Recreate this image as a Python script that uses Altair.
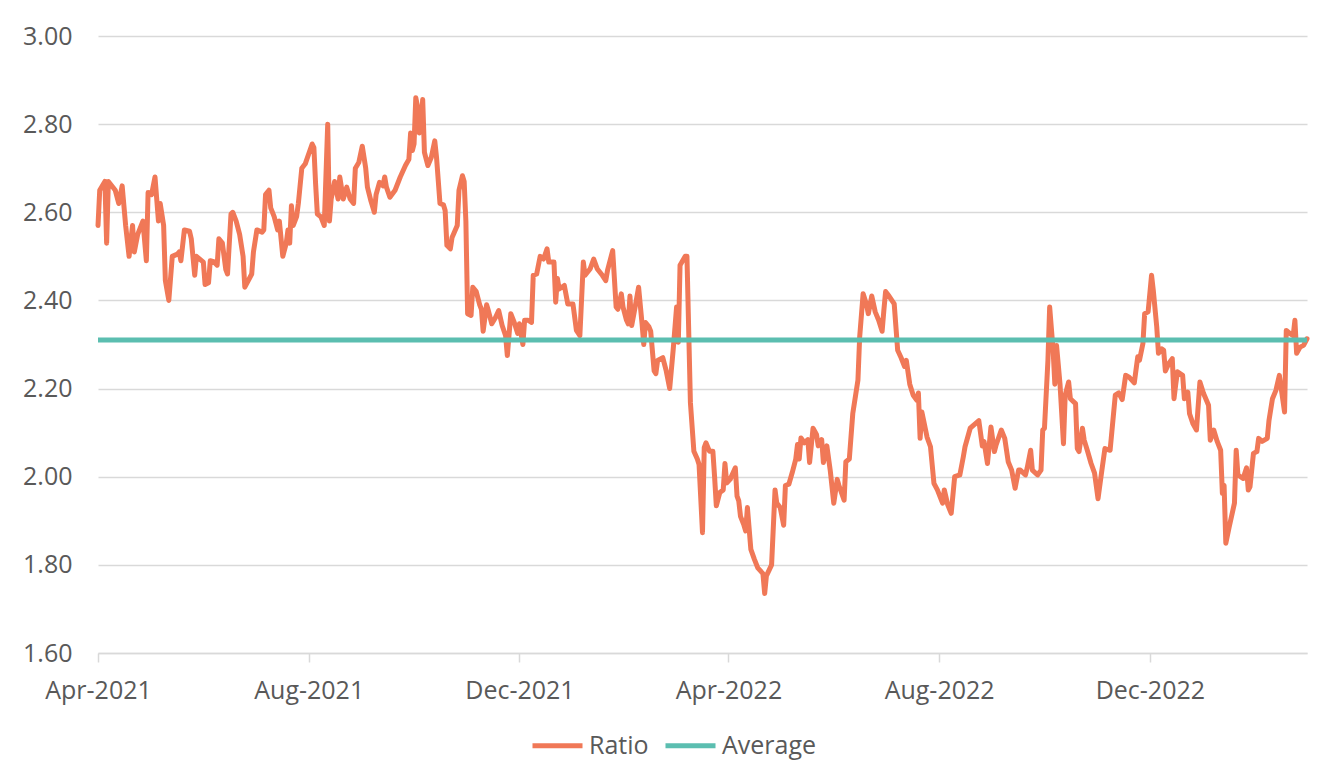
import altair as alt
import pandas as pd

# ---- data ----
START_DATE = "2021-04-01"
# days elapsed since START_DATE for each observation
DAY_OFFSETS = [
    0, 1, 4, 5, 6, 10, 12, 14, 16, 18, 20, 21, 23, 26, 28, 29, 31, 33, 35, 36,
    38, 39, 41, 43, 46, 47, 48, 50, 53, 54, 56, 57, 61, 62, 64, 65, 67, 69, 70, 72,
    74, 75, 77, 78, 80, 82, 84, 85, 87, 89, 90, 92, 95, 96, 97, 99, 100, 102, 104, 105,
    107, 109, 110, 111, 112, 113, 115, 116, 118, 120,
    124, 125, 126, 127, 129, 131, 133, 134, 135, 137, 139, 140, 142, 144, 146, 148, 149, 151, 153, 155,
    156, 158, 160, 161, 163, 165, 166, 167, 169, 172, 175, 178, 180, 181, 182, 183, 184, 185, 186, 187,
    188, 189, 191, 193, 195, 196, 198, 200, 201, 202, 204, 205, 208, 209, 211, 212, 213, 214, 216,
    217, 219, 221, 222, 223, 225, 226, 228, 230, 232, 234, 236, 237, 239, 241, 243, 244, 246, 247, 249,
    251, 252, 254, 256, 258, 260, 261, 264, 265, 266, 267, 270, 272, 275, 276, 277, 279, 281, 282, 285,
    287, 289, 292, 294, 295, 298, 300, 301, 303, 304, 306, 307, 308, 309, 311, 313, 315, 316, 317, 319,
    320, 322, 323, 324, 327, 329, 331, 333, 335, 336, 337, 340, 341,
    343, 345, 347, 348, 350, 351, 352, 354, 356, 357, 358, 360, 362, 363, 364, 366, 369, 370, 371, 372,
    374, 375, 376, 378, 380, 382, 385, 386, 387, 390, 392, 393, 395, 397, 398, 400, 402, 404, 405, 406,
    407, 409, 411, 412, 414, 416, 417, 419, 420, 422, 424, 426, 428, 429,
    432, 433, 435, 437, 440, 441, 443, 445, 446, 448, 450, 452, 454, 455, 456, 458, 461, 463, 465, 467,
    468, 470, 472, 474, 475, 476, 477, 478, 480, 482, 484, 486, 489, 490, 492, 494, 496, 499, 501, 502,
    505, 507, 510, 512, 513, 515, 517, 519, 520, 523, 525, 527, 529, 531, 533,
    534, 537, 538, 540, 541, 544, 546, 547, 548, 550, 551, 553, 554, 555, 557, 559, 560, 562, 563, 566,
    567, 568, 570, 571, 573, 575, 577, 579, 581, 583, 586, 589, 591, 593, 595, 597, 600, 602, 603,
    605, 606, 608, 610, 611, 613, 614, 616, 617, 618, 620, 622, 623, 624, 625, 628, 629, 631, 632, 634,
    636, 638, 640, 643, 644, 646, 648, 650, 651, 652, 653, 655, 658, 659, 660, 663, 665, 666, 667, 669,
    671, 672, 674, 677, 678, 680, 682, 684, 687, 688, 690, 692, 693, 694, 696, 698, 700,
]
RATIO = [
    2.57, 2.65, 2.67, 2.53, 2.67, 2.65, 2.62, 2.66, 2.57, 2.50, 2.57, 2.51, 2.55, 2.58, 2.49, 2.645, 2.64, 2.68, 2.58, 2.62,
    2.57, 2.445, 2.40, 2.50, 2.505, 2.51, 2.49, 2.56, 2.557, 2.54, 2.457, 2.50, 2.487, 2.436, 2.44, 2.49, 2.488, 2.48, 2.54, 2.53,
    2.47, 2.46, 2.596, 2.60, 2.58, 2.55, 2.50, 2.43, 2.445, 2.46, 2.51, 2.56, 2.555, 2.56, 2.64, 2.65, 2.61, 2.59, 2.56, 2.58,
    2.50, 2.53, 2.56, 2.53, 2.615, 2.57, 2.59, 2.62, 2.70, 2.71,
    2.755, 2.747, 2.664, 2.596, 2.59, 2.57, 2.80, 2.58, 2.63, 2.67, 2.63, 2.68, 2.63, 2.657, 2.63, 2.62, 2.70, 2.713, 2.75, 2.70,
    2.657, 2.626, 2.60, 2.64, 2.668, 2.66, 2.68, 2.657, 2.634, 2.65, 2.68, 2.706, 2.72, 2.78, 2.74, 2.755, 2.86, 2.84, 2.78, 2.80,
    2.856, 2.736, 2.706, 2.725, 2.762, 2.725, 2.62, 2.617, 2.604, 2.525, 2.517, 2.543, 2.57, 2.65, 2.683, 2.67, 2.58, 2.37, 2.366,
    2.43, 2.42, 2.39, 2.38, 2.33, 2.39, 2.377, 2.347, 2.36, 2.377, 2.343, 2.32, 2.275, 2.37, 2.35, 2.325, 2.347, 2.30, 2.355, 2.355,
    2.35, 2.457, 2.46, 2.50, 2.494, 2.517, 2.487, 2.487, 2.396, 2.45, 2.426, 2.434, 2.392, 2.392, 2.362, 2.332, 2.32, 2.487, 2.457, 2.472,
    2.494, 2.472, 2.457, 2.445, 2.468, 2.513, 2.385, 2.38, 2.415, 2.385, 2.355, 2.347, 2.41, 2.343, 2.385, 2.43, 2.347, 2.30, 2.35, 2.34,
    2.33, 2.24, 2.234, 2.264, 2.27, 2.24, 2.20, 2.287, 2.385, 2.305, 2.48, 2.50, 2.50,
    2.168, 2.058, 2.04, 2.028, 1.873, 2.066, 2.077, 2.058, 2.058, 2.00, 1.934, 1.964, 1.97, 2.03, 1.986, 1.994, 2.02, 1.956, 1.945, 1.91,
    1.89, 1.877, 1.93, 1.835, 1.813, 1.793, 1.78, 1.735, 1.775, 1.80, 1.97, 1.94, 1.93, 1.89, 1.98, 1.983, 2.01, 2.04, 2.073, 2.04,
    2.088, 2.077, 2.084, 2.032, 2.11, 2.096, 2.07, 2.084, 2.032, 2.07, 2.013, 1.94, 1.994, 1.98,
    1.947, 2.034, 2.04, 2.143, 2.219, 2.317, 2.415, 2.39, 2.37, 2.41, 2.374, 2.355, 2.33, 2.377, 2.42, 2.41, 2.392, 2.287, 2.27, 2.25,
    2.264, 2.21, 2.185, 2.174, 2.19, 2.087, 2.147, 2.128, 2.09, 2.068, 1.985, 1.97, 1.94, 1.97, 1.936, 1.917, 2.00, 2.004, 2.045, 2.068,
    2.11, 2.117, 2.127, 2.07, 2.08, 2.03, 2.113, 2.057, 2.072, 2.106, 2.087, 2.034, 2.015, 1.974, 2.015,
    2.015, 2.004, 2.02, 2.06, 2.015, 2.004, 2.015, 2.106, 2.11, 2.264, 2.385, 2.287, 2.21, 2.298, 2.21, 2.075, 2.185, 2.215, 2.177, 2.166,
    2.064, 2.057, 2.11, 2.083, 2.057, 2.03, 2.008, 1.95, 2.008, 2.064, 2.06, 2.185, 2.19, 2.175, 2.23, 2.226, 2.213, 2.272, 2.264,
    2.302, 2.37, 2.374, 2.457, 2.423, 2.34, 2.28, 2.29, 2.287, 2.24, 2.257, 2.268, 2.177, 2.21, 2.238, 2.23, 2.177, 2.192, 2.143, 2.12,
    2.106, 2.215, 2.19, 2.162, 2.083, 2.106, 2.08, 2.06, 1.962, 1.98, 1.849, 1.887, 1.94, 2.06, 2.004, 1.996, 2.02, 1.97, 1.977, 2.053,
    2.057, 2.087, 2.08, 2.087, 2.128, 2.177, 2.196, 2.23, 2.147, 2.332, 2.325, 2.32, 2.355, 2.28, 2.294, 2.298, 2.313,
]
AVERAGE = 2.31
SERIES = ["Ratio", "Average"]
COLORS = ["#F07857", "#5BBEB0"]
X_TICK_MONTHS = [(2021, 4), (2021, 8), (2021, 12), (2022, 4), (2022, 8), (2022, 12)]
X_END = (2023, 3, 2)
Y_TICKS = [1.6, 1.8, 2.0, 2.2, 2.4, 2.6, 2.8, 3.0]

# ---- tables ----
base = pd.Timestamp(START_DATE)
dates = [base + pd.Timedelta(days=d) for d in DAY_OFFSETS]
ratio_df = pd.DataFrame({"date": dates, "value": RATIO, "series": SERIES[0]})
avg_df = pd.DataFrame({"date": [dates[0], dates[-1]], "value": [AVERAGE, AVERAGE], "series": SERIES[1]})

FONT = "Open Sans"
TEXT = "#595959"
GRID = "#d9d9d9"

x_enc = alt.X(
    "date:T",
    scale=alt.Scale(
        domain=[alt.DateTime(year=2021, month=4, date=1),
                alt.DateTime(year=X_END[0], month=X_END[1], date=X_END[2])],
        nice=False,
    ),
    axis=alt.Axis(
        values=[alt.DateTime(year=y, month=m, date=1) for y, m in X_TICK_MONTHS],
        format="%b-%Y", title=None, grid=False,
        domainColor=GRID, domainWidth=1.5,
        tickColor=GRID, tickWidth=1.5, tickSize=9,
        labelPadding=16, labelFlush=False, labelOverlap=False,
        labelFont=FONT, labelFontSize=25, labelColor=TEXT,
    ),
)
y_enc = alt.Y(
    "value:Q",
    scale=alt.Scale(domain=[1.6, 3.0], nice=False, zero=False),
    axis=alt.Axis(
        values=Y_TICKS, format=".2f", title=None,
        domain=False, ticks=False, labelPadding=26,
        gridColor=GRID, gridWidth=1.5,
        labelFont=FONT, labelFontSize=25, labelColor=TEXT,
    ),
)
color_enc = alt.Color(
    "series:N",
    scale=alt.Scale(domain=SERIES, range=COLORS),
    legend=alt.Legend(
        title=None, orient="none", direction="horizontal",
        legendX=432, legendY=682,
        symbolType="stroke", symbolSize=2500, symbolStrokeWidth=5,
        labelFont=FONT, labelFontSize=25, labelColor=TEXT,
        labelOffset=4, columnPadding=6, padding=0,
    ),
)

ratio_line = alt.Chart(ratio_df).mark_line(
    strokeWidth=5, strokeJoin="round", strokeCap="round"
).encode(x=x_enc, y=y_enc, color=color_enc)

avg_line = alt.Chart(avg_df).mark_line(
    strokeWidth=5
).encode(x=x_enc, y=y_enc, color=color_enc)

chart = alt.layer(ratio_line, avg_line).properties(
    width=1209, height=617,
    autosize=alt.AutoSizeParams(type="none"),
    padding={"left": 90, "top": 28, "right": 14, "bottom": 114},
    background="white",
).configure_view(stroke=None)

chart.save("out.html", embed_options={"renderer": "svg", "actions": False})
